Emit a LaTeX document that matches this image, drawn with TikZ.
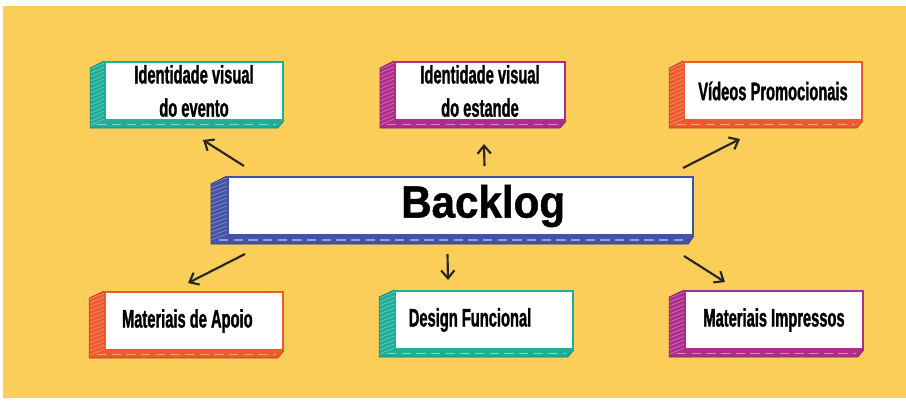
\documentclass[tikz,border=0pt]{standalone}
\usepackage{fontspec}
\setmainfont{Liberation Sans}
\newfontfamily\cardfont[FakeStretch=0.58,FakeBold=1.2]{Liberation Sans Bold}
\newfontfamily\titlefont[FakeStretch=0.93,FakeBold=1]{Liberation Sans Bold}
\usetikzlibrary{arrows.meta,calc}

\definecolor{bgyellow}{HTML}{FBCD59}
\definecolor{tealc}{HTML}{1FAE98}
\definecolor{magc}{HTML}{B02C8C}
\definecolor{orangec}{HTML}{EE5A2E}
\definecolor{bluec}{HTML}{4353A5}

\tikzset{
    card/.style={draw=#1, line width=1.5pt, fill=white, inner sep=0pt,
        minimum width=133pt, minimum height=43.5pt, align=center,
        font={\cardfont\fontsize{19}{25}\selectfont}},
    arrow/.style={-{Straight Barb[length=6pt,width=10pt]}, line width=1.6pt, black!85}
}

% side and bottom face of a card
\newcommand{\slab}[4]{%
    \fill[#2] (#1.north west) -- ++(-#3,#4) -- ($(#1.south west)+(-#3,#4)$)
        -- ($(#1.south east)+(-6,#4)$) -- (#1.south east) -- (#1.south west) -- cycle;
    \begin{scope}
        \clip (#1.north west) -- ++(-#3,#4) -- ($(#1.south west)+(-#3,#4)$) -- (#1.south west) -- cycle;
        \foreach \k in {0,4,...,90}
            \draw[white, opacity=.3, line width=.6pt] ($(#1.north west)+(-#3,\k)$) -- ++(#3,-6);
    \end{scope}
    \draw[white, opacity=.45, line width=1pt, dash pattern=on 7pt off 4pt]
        ($(#1.south west)+(-#3/2,#4/2)$) -- ($(#1.south east)+(-8,#4/2)$);
    \draw[#2!75!black, line width=.6pt] (#1.north west) -- ++(-#3,#4) -- ($(#1.south west)+(-#3,#4)$)
        -- ($(#1.south east)+(-6,#4)$) -- (#1.south east);
}

\begin{document}
\begin{tikzpicture}[x=0.75pt, y=-0.75pt]

    \useasboundingbox (0,0) rectangle (906,400);
    \fill[white] (0,0) rectangle (906,400);
    \fill[bgyellow] (3,6) rectangle (906,398);

    % top row
    \node[card=tealc] (evento) at (194,91) {Identidade visual\\do evento};
    \node[card=magc, minimum width=127.5pt] (estande) at (480,91) {Identidade visual\\do estande};
    \node[card=orangec] (videos) at (773,91) {Vídeos Promocionais};

    % centre
    \node[card=bluec, minimum width=348.75pt, font={\titlefont\fontsize{34}{40}\selectfont}]
        (backlog) at (460.5,206) {\hspace*{34pt}\raisebox{-3pt}{Backlog}};

    % bottom row
    \node[card=orangec] (apoio) at (194,321) {Materiais de Apoio\hspace*{10pt}};
    \node[card=tealc] (design) at (484,320) {Design Funcional\hspace*{21pt}};
    \node[card=magc] (impressos) at (774,320) {Materiais Impressos};

    \slab{evento}{tealc}{14}{7}
    \slab{estande}{magc}{14}{7}
    \slab{videos}{orangec}{14}{7}
    \slab{backlog}{bluec}{16}{8}
    \slab{apoio}{orangec}{15}{7}
    \slab{design}{tealc}{15}{7}
    \slab{impressos}{magc}{15}{7}

    \draw[arrow] ($(backlog.north west)+(17,-10)$) -- ($(evento.south)+(9,19)$);
    \draw[arrow] ($(backlog.north)+(24,-10)$) -- ($(estande.south)+(4,23)$);
    \draw[arrow] ($(backlog.north east)+(-11,-8)$) -- ($(videos.south)+(-33,18)$);
    \draw[arrow] ($(backlog.south west)+(18,18)$) -- ($(apoio.north)+(-6,-8)$);
    \draw[arrow] ($(backlog.south)+(-13,18)$) -- ($(design.north)+(-36,-10)$);
    \draw[arrow] ($(backlog.south east)+(-10,20)$) -- ($(impressos.north)+(-49,-8)$);

\end{tikzpicture}
\end{document}
